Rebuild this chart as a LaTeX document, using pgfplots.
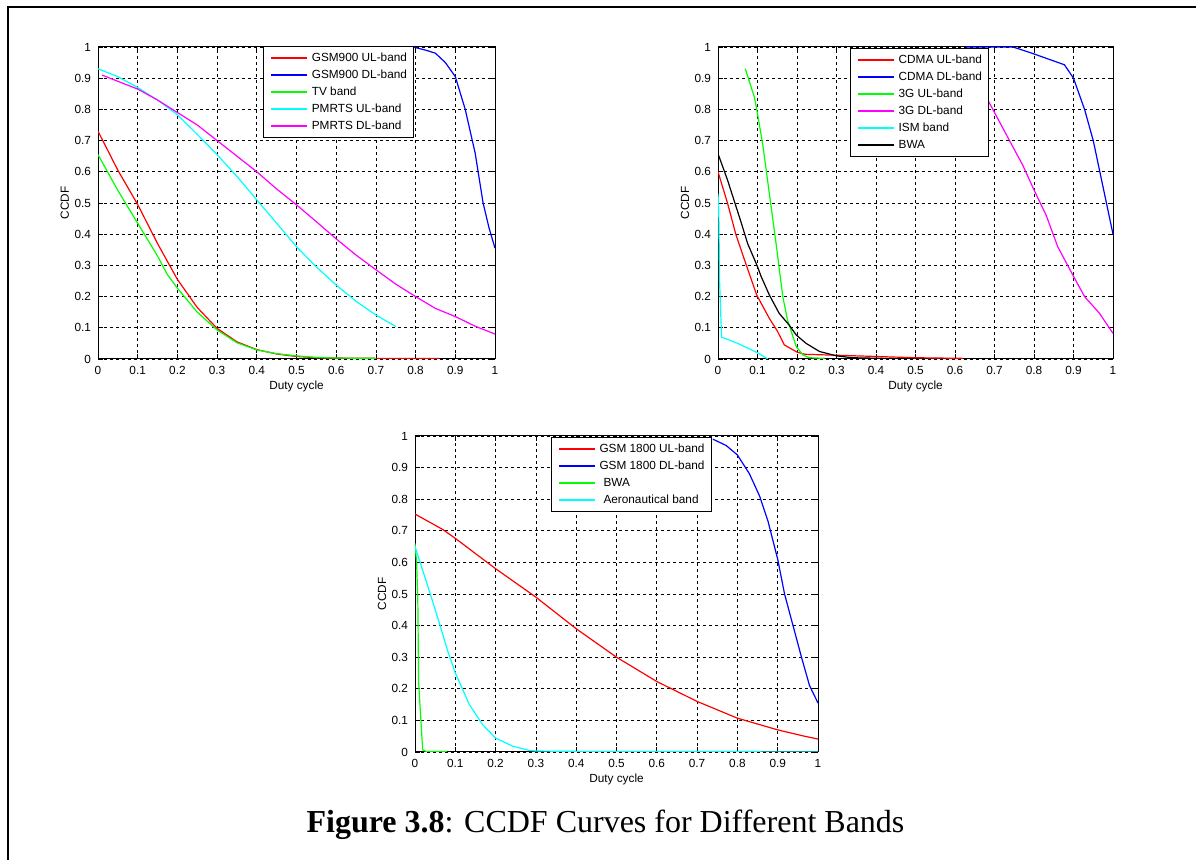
\documentclass[border=0pt]{standalone}
\usepackage{fontspec}
\setmainfont{Liberation Serif}
\newfontfamily\arial{Liberation Sans}
\usepackage{pgfplots}
\pgfplotsset{compat=1.18}
\definecolor{mred}{rgb}{1,0,0}
\definecolor{mblue}{rgb}{0,0,1}
\definecolor{mgreen}{rgb}{0,1,0}
\definecolor{mcyan}{rgb}{0,1,1}
\definecolor{mmagenta}{rgb}{1,0,1}
\pgfplotsset{
  ccdf/.style={
    scale only axis,
    anchor=south west,
    xmin=0, xmax=1, ymin=0, ymax=1,
    xtick={0,0.1,...,1.01}, ytick={0,0.1,...,1.01},
    /pgf/number format/fixed,
    /pgf/number format/assume math mode=true,
    tick label style={font=\arial\fontsize{5.9}{7}\selectfont},
    tick align=inside, major tick length=2.5pt,
    axis line style={line width=0.5pt},
    every tick/.style={black, line width=0.4pt},
    grid=major,
    major grid style={black, line width=0.4pt, dash pattern=on 1.5pt off 1.5pt},
    xlabel={Duty cycle}, ylabel={CCDF},
    every axis x label/.style={at={([yshift=-15.5pt]rel axis cs:0.5,0)}, anchor=base, font=\arial\fontsize{5.9}{7}\selectfont},
    every axis y label/.style={at={([xshift=-14.5pt]rel axis cs:0,0.5)}, anchor=base, rotate=90, font=\arial\fontsize{5.9}{7}\selectfont},
    legend cell align=left,
    legend image code/.code={\draw[#1] (0pt,0pt) -- (18pt,0pt);},
    legend style={font=\arial\fontsize{5.9}{7}\selectfont, draw=black, line width=0.5pt, fill=white,
      inner xsep=3.5pt, inner ysep=2.5pt, column sep=2pt, row sep=2pt,
      nodes={inner sep=0pt, text height=5pt, text depth=1.5pt}},
    every axis plot/.append style={line width=0.6pt},
  }
}
\begin{document}
\begin{tikzpicture}
\useasboundingbox (0,0) rectangle (598pt,430pt);
\fill[white] (0,0) rectangle (598pt,430pt);
\draw[line width=1pt] (4pt,0pt) -- (4pt,426.25pt) -- (598pt,426.25pt);

% Plot 1
\begin{axis}[ccdf, at={(49pt,250.5pt)}, width=198.5pt, height=156pt,
  legend style={at={(rel axis cs:0.416,1.003)}, anchor=north west}]
\addplot[mred] coordinates {(0,0.73) (0.05,0.605) (0.1,0.495) (0.15,0.37) (0.2,0.255) (0.25,0.165) (0.3,0.098) (0.35,0.055) (0.4,0.03) (0.45,0.016) (0.5,0.008) (0.55,0.004) (0.6,0.003) (0.7,0.002) (0.86,0.002)};
\addlegendentry{GSM900 UL-band}
\addplot[mblue] coordinates {(0.78,1.0) (0.8,0.998) (0.825,0.99) (0.85,0.98) (0.875,0.95) (0.9,0.905) (0.925,0.8) (0.95,0.66) (0.97,0.5) (0.985,0.42) (1.0,0.355)};
\addlegendentry{GSM900 DL-band}
\addplot[mgreen] coordinates {(0,0.655) (0.05,0.54) (0.1,0.435) (0.15,0.33) (0.175,0.27) (0.2,0.227) (0.25,0.15) (0.3,0.093) (0.35,0.052) (0.4,0.029) (0.45,0.017) (0.5,0.01) (0.55,0.005) (0.6,0.003) (0.7,0.002)};
\addlegendentry{TV band}
\addplot[mcyan] coordinates {(0,0.93) (0.05,0.905) (0.1,0.87) (0.15,0.83) (0.2,0.783) (0.25,0.72) (0.3,0.655) (0.35,0.585) (0.4,0.51) (0.45,0.435) (0.5,0.36) (0.55,0.295) (0.6,0.237) (0.65,0.185) (0.7,0.141) (0.75,0.104)};
\addlegendentry{PMRTS UL-band}
\addplot[mmagenta] coordinates {(0.01,0.91) (0.05,0.89) (0.1,0.865) (0.15,0.83) (0.2,0.79) (0.25,0.75) (0.3,0.70) (0.35,0.65) (0.4,0.60) (0.45,0.545) (0.5,0.494) (0.55,0.44) (0.6,0.385) (0.65,0.333) (0.7,0.286) (0.75,0.24) (0.8,0.2) (0.85,0.162) (0.9,0.136) (0.95,0.105) (1.0,0.08)};
\addlegendentry{PMRTS DL-band}
\end{axis}

% Plot 2
\begin{axis}[ccdf, at={(359pt,250.5pt)}, width=197.5pt, height=156pt,
  legend style={at={(rel axis cs:0.334,0.997)}, anchor=north west}]
\addplot[mred] coordinates {(0,0.60) (0.024,0.5) (0.045,0.4) (0.067,0.318) (0.098,0.205) (0.13,0.13) (0.15,0.09) (0.168,0.045) (0.2,0.022) (0.22,0.015) (0.3,0.012) (0.4,0.008) (0.5,0.004) (0.62,0.002)};
\addlegendentry{CDMA UL-band}
\addplot[mblue] coordinates {(0.628,1.0) (0.747,1.0) (0.797,0.979) (0.877,0.943) (0.9,0.90) (0.928,0.80) (0.95,0.70) (0.975,0.55) (1.0,0.40)};
\addlegendentry{CDMA DL-band}
\addplot[mgreen] coordinates {(0.069,0.93) (0.092,0.84) (0.098,0.80) (0.113,0.69) (0.13,0.53) (0.147,0.37) (0.164,0.2) (0.176,0.125) (0.198,0.04) (0.215,0.013) (0.231,0.004) (0.27,0.002)};
\addlegendentry{3G UL-band}
\addplot[mmagenta] coordinates {(0.679,0.84) (0.70,0.79) (0.738,0.70) (0.772,0.62) (0.797,0.55) (0.831,0.46) (0.86,0.36) (0.9,0.265) (0.928,0.2) (0.966,0.146) (1.0,0.082)};
\addlegendentry{3G DL-band}
\addplot[mcyan] coordinates {(0,0.53) (0.002,0.47) (0.004,0.25) (0.009,0.07) (0.05,0.05) (0.1,0.02) (0.126,0)};
\addlegendentry{ISM band}
\addplot[black] coordinates {(0,0.658) (0.024,0.574) (0.058,0.44) (0.075,0.37) (0.1,0.296) (0.109,0.265) (0.13,0.205) (0.155,0.146) (0.18,0.109) (0.198,0.077) (0.223,0.05) (0.257,0.024) (0.3,0.01) (0.34,0.004) (0.417,0.002) (0.455,0.001)};
\addlegendentry{BWA}
\end{axis}

% Plot 3
\begin{axis}[ccdf, at={(207.5pt,54pt)}, width=201.5pt, height=158pt,
  legend style={at={(rel axis cs:0.337,0.997)}, anchor=north west}]
\addplot[mred] coordinates {(0,0.753) (0.069,0.704) (0.1,0.676) (0.2,0.58) (0.3,0.49) (0.4,0.39) (0.5,0.30) (0.6,0.223) (0.7,0.16) (0.8,0.107) (0.9,0.07) (0.966,0.05) (1.0,0.041)};
\addlegendentry{GSM 1800 UL-band}
\addplot[mblue] coordinates {(0.739,0.99) (0.772,0.97) (0.8,0.94) (0.83,0.88) (0.855,0.81) (0.876,0.73) (0.9,0.61) (0.917,0.50) (0.938,0.40) (0.959,0.30) (0.979,0.21) (1.0,0.155)};
\addlegendentry{GSM 1800 DL-band}
\addplot[mgreen] coordinates {(0,0.66) (0.004,0.6) (0.007,0.48) (0.009,0.22) (0.013,0.134) (0.019,0.007) (0.027,0.002) (0.08,0.002)};
\addlegendentry{\hspace{2pt}BWA}
\addplot[mcyan] coordinates {(0,0.65) (0.027,0.544) (0.06,0.41) (0.081,0.32) (0.1,0.25) (0.135,0.15) (0.168,0.086) (0.2,0.044) (0.243,0.018) (0.284,0.005) (0.3,0.003) (0.4,0.002) (0.855,0.002) (0.86,0) (1,0)};
\addlegendentry{\hspace{2pt}Aeronautical band}
\end{axis}

\node[anchor=base, inner sep=0pt, font=\fontsize{16pt}{19pt}\selectfont] at (302.75pt,13.5pt) {\textbf{Figure 3.8}: CCDF Curves for Different Bands};
\end{tikzpicture}
\end{document}
